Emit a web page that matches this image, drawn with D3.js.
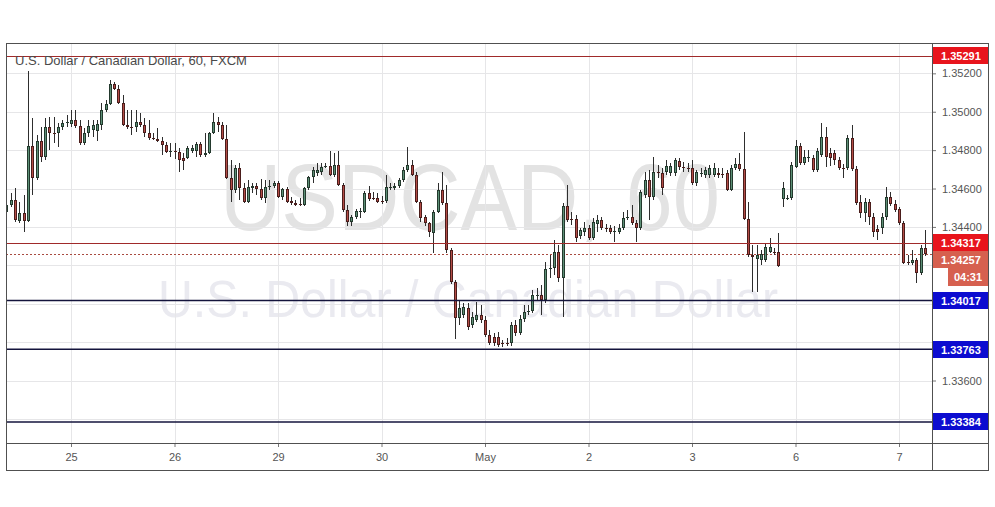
<!DOCTYPE html>
<html><head><meta charset="utf-8">
<script src="https://cdn.jsdelivr.net/npm/d3@7"></script>
<style>
body{margin:0;background:#fff}
svg{display:block}
text{font-family:"Liberation Sans",Arial,sans-serif}
</style>
</head><body>
<svg id="c" width="995" height="507"></svg>
<script>
// ---------- data ----------
const chartTitle = "U.S. Dollar / Canadian Dollar, 60, FXCM";
const symbolMark = "USDCAD, 60";
const nameMark = "U.S. Dollar / Canadian Dollar";
const dayLabels = ["25","26","29","30","May","2","3","6","7"];
const dayStartIndex = [15,39,63,87,111,135,159,183,207];
const priceTicks = [1.352,1.350,1.348,1.346,1.344,1.342,1.340,1.338,1.336,1.334];
const resistanceLevels = [1.35291,1.34317];
const supportLevels = [1.34017,1.33763,1.33384];
const lastPrice = 1.34257;
const countdown = "04:31";
// hourly candles [open, high, low, close]
const candles = [
[1.34478,1.34540,1.34462,1.34514],[1.34514,1.34576,1.34504,1.34540],[1.34540,1.34602,1.34426,1.34436],[1.34431,1.34530,1.34420,1.34472],
[1.34472,1.34566,1.34374,1.34431],[1.34431,1.35212,1.34426,1.34822],[1.34822,1.34967,1.34566,1.34655],[1.34655,1.34879,1.34644,1.34848],
[1.34848,1.34921,1.34739,1.34765],[1.34765,1.34967,1.34749,1.34921],[1.34921,1.34973,1.34801,1.34889],[1.34889,1.34973,1.34837,1.34884],
[1.34889,1.34941,1.34817,1.34921],[1.34921,1.34957,1.34905,1.34941],[1.34941,1.34983,1.34921,1.34946],[1.34936,1.35009,1.34921,1.34957],
[1.34957,1.35009,1.34915,1.34926],[1.34926,1.34957,1.34827,1.34837],[1.34837,1.34915,1.34827,1.34889],[1.34889,1.34957,1.34869,1.34926],
[1.34905,1.34957,1.34869,1.34931],[1.34900,1.34957,1.34848,1.34936],[1.34931,1.35045,1.34905,1.35009],[1.35009,1.35061,1.34999,1.35040],
[1.35040,1.35165,1.35035,1.35144],[1.35144,1.35155,1.35113,1.35118],[1.35118,1.35139,1.35040,1.35045],[1.35045,1.35087,1.34926,1.34931],
[1.34931,1.35009,1.34910,1.34921],[1.34921,1.35009,1.34879,1.34915],[1.34921,1.35009,1.34895,1.34946],[1.34946,1.34993,1.34921,1.34931],
[1.34931,1.34967,1.34869,1.34889],[1.34889,1.34957,1.34853,1.34863],[1.34863,1.34889,1.34853,1.34858],[1.34858,1.34915,1.34843,1.34848],
[1.34848,1.34869,1.34775,1.34827],[1.34827,1.34843,1.34785,1.34791],[1.34791,1.34837,1.34765,1.34796],[1.34796,1.34837,1.34754,1.34791],
[1.34791,1.34811,1.34687,1.34749],[1.34759,1.34785,1.34697,1.34744],[1.34759,1.34822,1.34754,1.34811],[1.34796,1.34827,1.34785,1.34811],
[1.34796,1.34843,1.34765,1.34832],[1.34832,1.34843,1.34765,1.34775],[1.34775,1.34889,1.34765,1.34785],[1.34785,1.34895,1.34780,1.34889],
[1.34889,1.34993,1.34884,1.34946],[1.34946,1.34973,1.34895,1.34931],[1.34931,1.34946,1.34853,1.34858],[1.34858,1.34931,1.34650,1.34655],
[1.34655,1.34749,1.34530,1.34592],[1.34592,1.34723,1.34576,1.34707],[1.34707,1.34733,1.34540,1.34602],[1.34602,1.34628,1.34524,1.34530],
[1.34530,1.34644,1.34524,1.34607],[1.34602,1.34628,1.34576,1.34612],[1.34612,1.34628,1.34566,1.34597],[1.34597,1.34650,1.34540,1.34550],
[1.34550,1.34644,1.34524,1.34607],[1.34607,1.34644,1.34592,1.34612],[1.34612,1.34639,1.34602,1.34628],[1.34628,1.34639,1.34550,1.34556],
[1.34556,1.34602,1.34540,1.34597],[1.34597,1.34607,1.34524,1.34530],[1.34535,1.34556,1.34514,1.34524],[1.34524,1.34540,1.34509,1.34514],
[1.34519,1.34550,1.34509,1.34514],[1.34514,1.34607,1.34509,1.34602],[1.34602,1.34665,1.34592,1.34660],[1.34660,1.34712,1.34628,1.34697],
[1.34681,1.34733,1.34665,1.34697],[1.34687,1.34733,1.34671,1.34712],[1.34712,1.34733,1.34707,1.34718],[1.34718,1.34796,1.34665,1.34671],
[1.34671,1.34785,1.34660,1.34723],[1.34723,1.34796,1.34612,1.34618],[1.34618,1.34628,1.34478,1.34488],[1.34488,1.34514,1.34405,1.34426],
[1.34426,1.34462,1.34405,1.34452],[1.34452,1.34493,1.34441,1.34483],[1.34478,1.34498,1.34446,1.34483],[1.34478,1.34587,1.34472,1.34576],
[1.34576,1.34612,1.34535,1.34545],[1.34550,1.34582,1.34540,1.34545],[1.34550,1.34576,1.34524,1.34530],[1.34535,1.34561,1.34519,1.34530],
[1.34535,1.34671,1.34524,1.34607],[1.34602,1.34628,1.34592,1.34607],[1.34602,1.34628,1.34592,1.34612],[1.34612,1.34655,1.34602,1.34644],
[1.34644,1.34712,1.34634,1.34697],[1.34697,1.34817,1.34687,1.34723],[1.34723,1.34749,1.34665,1.34671],[1.34671,1.34687,1.34524,1.34530],
[1.34530,1.34540,1.34426,1.34446],[1.34452,1.34462,1.34405,1.34420],[1.34420,1.34426,1.34348,1.34374],[1.34368,1.34488,1.34264,1.34478],
[1.34478,1.34628,1.34472,1.34592],[1.34592,1.34687,1.34514,1.34524],[1.34524,1.34618,1.34264,1.34280],[1.34280,1.34290,1.34103,1.34114],
[1.34114,1.34124,1.33816,1.33925],[1.33925,1.34020,1.33889,1.33977],[1.33941,1.34004,1.33925,1.33983],[1.33977,1.34004,1.33863,1.33879],
[1.33889,1.33957,1.33873,1.33931],[1.33915,1.34010,1.33905,1.33941],[1.33941,1.33994,1.33899,1.33915],[1.33915,1.33936,1.33827,1.33837],
[1.33837,1.33863,1.33785,1.33795],[1.33827,1.33847,1.33780,1.33795],[1.33827,1.33853,1.33775,1.33785],[1.33795,1.33811,1.33775,1.33790],
[1.33795,1.33821,1.33780,1.33790],[1.33795,1.33905,1.33780,1.33889],[1.33889,1.33915,1.33832,1.33847],[1.33847,1.33941,1.33837,1.33920],
[1.33920,1.33994,1.33905,1.33957],[1.33957,1.33994,1.33941,1.33962],[1.33962,1.34072,1.33951,1.34046],[1.34041,1.34082,1.34020,1.34046],
[1.34046,1.34098,1.33941,1.34020],[1.34020,1.34218,1.34004,1.34181],[1.34181,1.34254,1.34134,1.34186],[1.34186,1.34332,1.34150,1.34270],
[1.34270,1.34306,1.34114,1.34134],[1.34134,1.34524,1.33931,1.34509],[1.34509,1.34618,1.34426,1.34436],[1.34441,1.34478,1.34410,1.34436],
[1.34441,1.34462,1.34322,1.34342],[1.34353,1.34394,1.34337,1.34384],[1.34374,1.34426,1.34353,1.34394],[1.34394,1.34410,1.34332,1.34342],
[1.34342,1.34446,1.34332,1.34426],[1.34415,1.34462,1.34374,1.34436],[1.34436,1.34452,1.34384,1.34394],[1.34394,1.34415,1.34374,1.34389],
[1.34394,1.34410,1.34363,1.34374],[1.34374,1.34405,1.34322,1.34379],[1.34374,1.34415,1.34363,1.34394],[1.34394,1.34478,1.34384,1.34446],
[1.34446,1.34488,1.34436,1.34452],[1.34452,1.34514,1.34410,1.34420],[1.34420,1.34436,1.34322,1.34394],[1.34394,1.34592,1.34384,1.34582],
[1.34566,1.34687,1.34550,1.34644],[1.34644,1.34697,1.34436,1.34556],[1.34556,1.34765,1.34540,1.34687],[1.34687,1.34723,1.34655,1.34681],
[1.34681,1.34707,1.34566,1.34602],[1.34687,1.34749,1.34671,1.34718],[1.34681,1.34733,1.34665,1.34718],[1.34681,1.34759,1.34665,1.34749],
[1.34744,1.34759,1.34697,1.34712],[1.34712,1.34739,1.34687,1.34707],[1.34707,1.34733,1.34687,1.34702],[1.34707,1.34749,1.34618,1.34628],
[1.34628,1.34697,1.34612,1.34687],[1.34676,1.34707,1.34660,1.34681],[1.34671,1.34712,1.34655,1.34697],[1.34671,1.34723,1.34655,1.34707],
[1.34671,1.34733,1.34660,1.34707],[1.34681,1.34707,1.34655,1.34671],[1.34676,1.34707,1.34655,1.34671],[1.34681,1.34697,1.34587,1.34592],
[1.34592,1.34723,1.34587,1.34707],[1.34707,1.34759,1.34697,1.34728],[1.34728,1.34785,1.34692,1.34702],[1.34702,1.34895,1.34436,1.34441],
[1.34441,1.34530,1.34244,1.34254],[1.34254,1.34306,1.34061,1.34244],[1.34233,1.34306,1.34061,1.34254],[1.34228,1.34280,1.34202,1.34259],
[1.34228,1.34316,1.34218,1.34296],[1.34270,1.34342,1.34264,1.34296],[1.34270,1.34290,1.34254,1.34264],[1.34270,1.34368,1.34192,1.34197],
[1.34545,1.34634,1.34504,1.34602],[1.34545,1.34566,1.34540,1.34550],[1.34550,1.34739,1.34540,1.34723],[1.34712,1.34853,1.34707,1.34822],
[1.34822,1.34837,1.34723,1.34733],[1.34733,1.34801,1.34723,1.34765],[1.34759,1.34801,1.34739,1.34765],[1.34759,1.34775,1.34687,1.34697],
[1.34697,1.34811,1.34687,1.34796],[1.34775,1.34941,1.34765,1.34869],[1.34869,1.34921,1.34712,1.34765],[1.34785,1.34811,1.34718,1.34759],
[1.34785,1.34801,1.34723,1.34749],[1.34749,1.34765,1.34697,1.34707],[1.34707,1.34728,1.34655,1.34702],[1.34707,1.34879,1.34697,1.34863],
[1.34863,1.34931,1.34692,1.34702],[1.34702,1.34718,1.34514,1.34524],[1.34530,1.34566,1.34446,1.34472],[1.34472,1.34550,1.34426,1.34530],
[1.34530,1.34545,1.34410,1.34452],[1.34452,1.34472,1.34348,1.34374],[1.34389,1.34410,1.34332,1.34374],[1.34394,1.34472,1.34363,1.34452],
[1.34452,1.34607,1.34436,1.34556],[1.34556,1.34582,1.34509,1.34519],[1.34519,1.34540,1.34478,1.34488],[1.34493,1.34504,1.34410,1.34420],
[1.34420,1.34431,1.34207,1.34212],[1.34218,1.34254,1.34202,1.34212],[1.34212,1.34280,1.34202,1.34228],[1.34228,1.34238,1.34108,1.34160],
[1.34160,1.34306,1.34150,1.34290],[1.34290,1.34384,1.34249,1.34257]
];

// ---------- layout ----------
const PL = 6, PR = 932, PT = 43, PB = 443, OR = 988, OB = 470;
const svg = d3.select("#c");
const x = d3.scaleLinear().domain([-0.0725, 214.65]).range([PL, PR]);
const y = d3.scaleLinear().domain([1.332745, 1.35358]).range([PB, PT]);
const px = v => Math.round(v) + 0.5;

svg.append("rect").attr("width",995).attr("height",507).attr("fill","#fff");
svg.append("defs").append("clipPath").attr("id","plot")
  .append("rect").attr("x",PL).attr("y",PT).attr("width",PR-PL).attr("height",PB-PT);

const plot = svg.append("g").attr("clip-path","url(#plot)");

// watermark
plot.append("text").attr("x",220).attr("y",230).attr("font-size",95)
  .attr("fill","#e3e3e3").attr("textLength",500).attr("lengthAdjust","spacingAndGlyphs").text(symbolMark);
plot.append("text").attr("x",158).attr("y",317).attr("font-size",52)
  .attr("fill","#eaeaf0").attr("textLength",620).attr("lengthAdjust","spacingAndGlyphs").text(nameMark);

// grid
plot.append("g").selectAll("line").data(priceTicks).join("line")
  .attr("x1",PL).attr("x2",PR).attr("y1",d=>px(y(d))).attr("y2",d=>px(y(d)))
  .attr("stroke","#e6e6e8").attr("stroke-width",1);
plot.append("g").selectAll("line").data(dayStartIndex).join("line")
  .attr("y1",PT).attr("y2",PB).attr("x1",d=>px(x(d))).attr("x2",d=>px(x(d)))
  .attr("stroke","#e6e6e8").attr("stroke-width",1);

// current price dotted line
plot.append("line").attr("x1",PL).attr("x2",PR)
  .attr("y1",px(y(lastPrice))).attr("y2",px(y(lastPrice)))
  .attr("stroke","#a84a40").attr("stroke-width",1).attr("stroke-dasharray","2,2");

// candles
const cg = plot.append("g").attr("shape-rendering","crispEdges");
const upFill = "#5d8f76", upLine = "#23392d", dnFill = "#b34c47", dnLine = "#4a1d1b";
cg.selectAll("line").data(candles).join("line")
  .attr("x1",(d,i)=>px(x(i))).attr("x2",(d,i)=>px(x(i)))
  .attr("y1",d=>y(d[1])).attr("y2",d=>y(d[2]))
  .attr("stroke","#2e2e2e").attr("stroke-width",1);
cg.selectAll("rect").data(candles).join("rect")
  .attr("x",(d,i)=>px(x(i))-1).attr("width",2)
  .attr("y",d=>Math.round(y(Math.max(d[0],d[3])))+0.5)
  .attr("height",d=>Math.max(0.01,Math.round(Math.abs(y(d[0])-y(d[3])))-1))
  .attr("fill",d=>d[3]>=d[0]?upFill:dnFill)
  .attr("stroke",d=>d[3]>=d[0]?upLine:dnLine).attr("stroke-width",1);

// horizontal levels
plot.append("g").attr("shape-rendering","crispEdges").selectAll("line").data(resistanceLevels).join("line")
  .attr("x1",PL).attr("x2",PR).attr("y1",d=>px(y(d))).attr("y2",d=>px(y(d)))
  .attr("stroke","#a02a2a").attr("stroke-width",1);
plot.append("g").selectAll("line").data(supportLevels).join("line")
  .attr("x1",PL).attr("x2",PR).attr("y1",d=>y(d)).attr("y2",d=>y(d))
  .attr("stroke","#14143c").attr("stroke-width",1.6);

// title
svg.append("text").attr("x",15).attr("y",65).attr("font-size",13)
  .attr("fill","#4a4a4a").text(chartTitle);

// price labels on axis (computed first so hidden ticks can be skipped)
const fmt = d3.format(".5f");
const labels = [
  ...resistanceLevels.map(v=>({v, fill:"#e8141c", text:fmt(v)})),
  {v:lastPrice, fill:"#d6604f", text:fmt(lastPrice)},
  ...supportLevels.map(v=>({v, fill:"#0c0cd0", text:fmt(v)}))
].sort((a,b)=>b.v-a.v);
const BH = 17;
let prevBottom = -1e9;
labels.forEach(l=>{
  let top = Math.round(y(l.v) - BH/2);
  if (top < prevBottom) top = prevBottom;
  l.top = top; l.bottom = top + BH; prevBottom = l.bottom;
});
const lp = labels.find(l=>l.v===lastPrice);
const blocks = labels.map(l=>[l.top,l.bottom]).concat([[lp.bottom, lp.bottom+18]]);
const hidden = t => blocks.some(([a,b]) => y(t)+6 > a && y(t)-6 < b);

// axes
const ya = svg.append("g").attr("transform",`translate(${PR},0)`)
  .call(d3.axisRight(y).tickValues(priceTicks).tickFormat(fmt).tickSize(4).tickPadding(6));
ya.select(".domain").remove();
ya.selectAll("line").attr("stroke","#777");
ya.selectAll(".tick").filter(d=>hidden(d)).select("text").remove();
ya.selectAll("text").attr("font-size",11).attr("fill","#555").attr("font-family","Liberation Sans, Arial, sans-serif");

const xa = svg.append("g").attr("transform",`translate(0,${PB})`)
  .call(d3.axisBottom(x).tickValues(dayStartIndex).tickFormat((d,i)=>dayLabels[i]).tickSize(4).tickPadding(6));
xa.select(".domain").remove();
xa.selectAll("line").attr("stroke","#777");
xa.selectAll("text").attr("font-size",11).attr("fill","#555").attr("font-family","Liberation Sans, Arial, sans-serif");

// frame
const fr = svg.append("g").attr("stroke","#505050").attr("stroke-width",1).attr("fill","none");
fr.append("rect").attr("x",PL+0.5).attr("y",PT+0.5).attr("width",OR-PL).attr("height",OB-PT);
fr.append("line").attr("x1",PR+0.5).attr("x2",PR+0.5).attr("y1",PT).attr("y2",OB);
fr.append("line").attr("x1",PL).attr("x2",OR).attr("y1",PB+0.5).attr("y2",PB+0.5);

const lg = svg.append("g");
lg.selectAll("rect").data(labels).join("rect")
  .attr("x",PR+1).attr("width",OR-PR-1).attr("y",d=>d.top).attr("height",BH).attr("fill",d=>d.fill);
lg.selectAll("text").data(labels).join("text")
  .attr("x",941).attr("y",d=>d.top+BH/2+4).attr("font-size",11).attr("font-weight","bold")
  .attr("fill","#fff").text(d=>d.text);
// countdown box under last price
lg.append("rect").attr("x",948).attr("y",lp.bottom).attr("width",OR-948).attr("height",18).attr("fill","#d6604f");
lg.append("text").attr("x",968).attr("y",lp.bottom+13).attr("text-anchor","middle")
  .attr("font-size",11).attr("font-weight","bold").attr("fill","#fff").text(countdown);
</script>
</body></html>
